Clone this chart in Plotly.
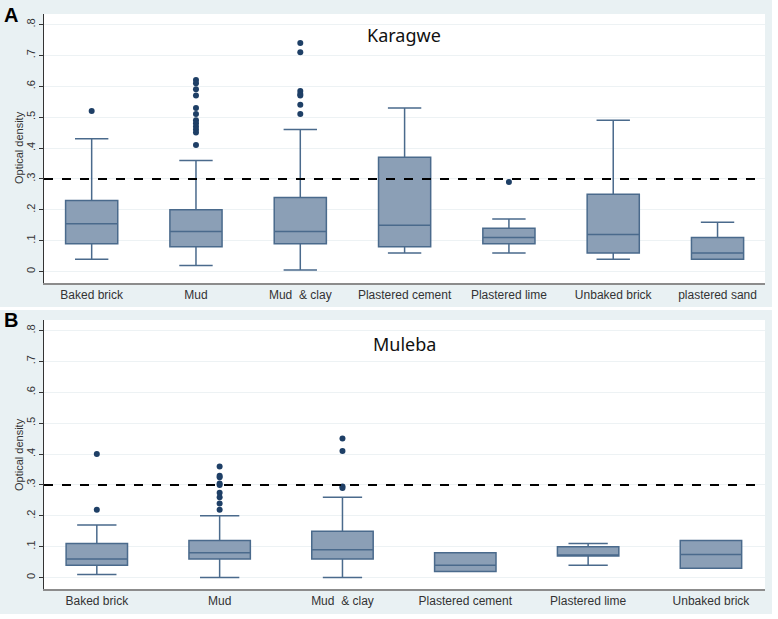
## OPTICAL DENSITY BY WALL TYPE - KARAGWE AND MULEBA

import plotly.graph_objects as go

# Karagwe (panel A) box statistics
cat_a = ['Baked brick', 'Mud', 'Mud  & clay', 'Plastered cement', 'Plastered lime', 'Unbaked brick', 'plastered sand']
low_a = [0.04, 0.02, 0.005, 0.06, 0.06, 0.04, 0.04]
q1_a = [0.09, 0.08, 0.09, 0.08, 0.09, 0.06, 0.04]
med_a = [0.155, 0.13, 0.13, 0.15, 0.11, 0.12, 0.06]
q3_a = [0.23, 0.20, 0.24, 0.37, 0.14, 0.25, 0.11]
up_a = [0.43, 0.36, 0.46, 0.53, 0.17, 0.49, 0.16]
out_a = {
    'Baked brick': [0.52],
    'Mud': [0.62, 0.61, 0.59, 0.57, 0.53, 0.51, 0.49, 0.48, 0.47, 0.46, 0.45, 0.41],
    'Mud  & clay': [0.74, 0.71, 0.585, 0.575, 0.57, 0.54, 0.51],
    'Plastered lime': [0.29],
}

# Muleba (panel B) box statistics
cat_b = ['Baked brick', 'Mud', 'Mud  & clay', 'Plastered cement', 'Plastered lime', 'Unbaked brick']
low_b = [0.01, 0.0, 0.0, 0.02, 0.04, 0.03]
q1_b = [0.04, 0.06, 0.06, 0.02, 0.07, 0.03]
med_b = [0.06, 0.08, 0.09, 0.04, 0.072, 0.075]
q3_b = [0.11, 0.12, 0.15, 0.08, 0.10, 0.12]
up_b = [0.17, 0.20, 0.26, 0.08, 0.11, 0.12]
out_b = {
    'Baked brick': [0.40, 0.22],
    'Mud': [0.36, 0.33, 0.325, 0.305, 0.30, 0.275, 0.26, 0.24, 0.22],
    'Mud  & clay': [0.45, 0.41, 0.295, 0.29],
}

cutoff = 0.3
y_ticks = [0, 0.1, 0.2, 0.3, 0.4, 0.5, 0.6, 0.7, 0.8]
y_labels = ['0', '.1', '.2', '.3', '.4', '.5', '.6', '.7', '.8']

box_fill = '#8b9fb6'
box_line = '#4a6a8c'
dot_color = '#1e3f66'
panel_bg = '#e9f1f3'
label_font = 'Liberation Sans, Arial'

fig = go.Figure()

for cats, low, q1, med, q3, up, outs, xa, ya in [
    (cat_a, low_a, q1_a, med_a, q3_a, up_a, out_a, 'x', 'y'),
    (cat_b, low_b, q1_b, med_b, q3_b, up_b, out_b, 'x2', 'y2'),
]:
    fig.add_trace(go.Box(
        x=cats, q1=q1, median=med, q3=q3, lowerfence=low, upperfence=up,
        fillcolor=box_fill, line=dict(color=box_line, width=1.5),
        width=0.5, whiskerwidth=0.64, boxpoints=False,
        showlegend=False, hoverinfo='skip', xaxis=xa, yaxis=ya
    ))
    ox = [c for c in outs for _ in outs[c]]
    oy = [v for c in outs for v in outs[c]]
    fig.add_trace(go.Scatter(
        x=ox, y=oy, mode='markers',
        marker=dict(size=6, color=dot_color),
        showlegend=False, xaxis=xa, yaxis=ya
    ))

# Axes
xdom = [44 / 778, 765 / 778]
yaxis_style = dict(
    range=[-0.037, 0.834], tickvals=y_ticks, ticktext=y_labels, tickangle=-90,
    ticks='outside', ticklen=4, tickcolor='#333333', showline=True,
    linecolor='#333333', linewidth=1, gridcolor='#edf2f4', zeroline=False,
    automargin=False, tickfont=dict(family=label_font, size=11, color='#333333')
)
xaxis_style = dict(
    domain=xdom, showline=True, linecolor='#8c8c8c', linewidth=2, ticks='',
    showgrid=False, automargin=False,
    tickfont=dict(family=label_font, size=12, color='#333333')
)
fig.update_layout(
    xaxis=dict(xaxis_style, range=[-0.457, 6.455], anchor='y'),
    yaxis=dict(yaxis_style, domain=[1 - 283 / 619, 1 - 14 / 619], anchor='x'),
    xaxis2=dict(xaxis_style, range=[-0.43, 5.44], anchor='y2'),
    yaxis2=dict(yaxis_style, domain=[1 - 589 / 619, 1 - 320 / 619], anchor='x2'),
)

# White gaps around the two panels, and the cut-off lines
white = dict(type='rect', xref='paper', yref='paper', fillcolor='white', line=dict(width=0))
shapes = [
    dict(white, x0=772 / 778, x1=1, y0=0, y1=1),
    dict(white, x0=0, x1=1, y0=1 - 310 / 619, y1=1 - 307 / 619),
    dict(white, x0=0, x1=1, y0=0, y1=1 - 614 / 619),
]
for xr, yr in [('x domain', 'y'), ('x2 domain', 'y2')]:
    shapes.append(dict(type='line', xref=xr, yref=yr, x0=0, x1=0.995, y0=cutoff, y1=cutoff,
                       line=dict(color='black', width=2, dash='dash')))

# Titles, panel letters and y titles
notes = []
for title, ty, letter, ly, mid in [('Karagwe', 35, 'A', 2, 148), ('Muleba', 344, 'B', 307, 455)]:
    notes.append(dict(text=title, xref='paper', yref='paper', x=404 / 778, y=1 - ty / 619,
                      xanchor='center', yanchor='middle', showarrow=False,
                      font=dict(family='Noto Sans', size=18, color='#111111')))
    notes.append(dict(text='<b>' + letter + '</b>', xref='paper', yref='paper', x=2 / 778, y=1 - ly / 619,
                      xanchor='left', yanchor='top', showarrow=False,
                      font=dict(family=label_font, size=20, color='black')))
    notes.append(dict(text='Optical density', xref='paper', yref='paper', x=19 / 778, y=1 - mid / 619,
                      xanchor='center', yanchor='middle', textangle=-90, showarrow=False,
                      font=dict(family=label_font, size=11, color='#333333')))

fig.update_layout(
    width=778, height=619,
    margin=dict(l=0, r=0, t=0, b=0),
    paper_bgcolor=panel_bg, plot_bgcolor='white',
    shapes=shapes, annotations=notes
)

# Drop the page's default body margin so the figure sits at the window's corner
fig.write_html("out.html", config={'displayModeBar': False},
               post_script="document.body.style.margin = '0';")
